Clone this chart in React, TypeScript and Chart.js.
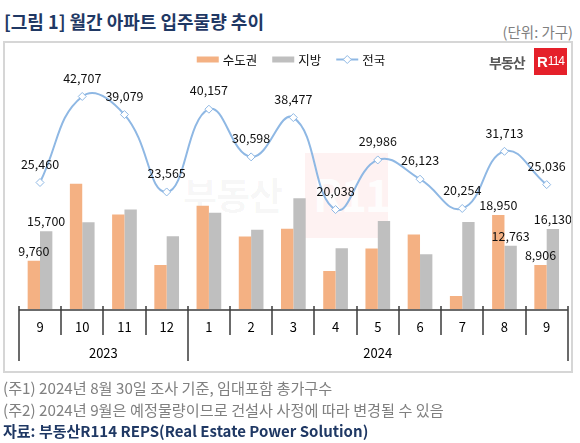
import React, { useEffect, useRef } from "react";
import { Chart, registerables } from "chart.js";

Chart.register(...registerables);

// ---------- data ----------
const monthLabels = ["9", "10", "11", "12", "1", "2", "3", "4", "5", "6", "7", "8", "9"];
const yearLabels = ["2023", "2024"];
const yearStarts = [0, 4]; // category index at which each year begins
const capitalArea = [9760, 25220, 19030, 8900, 20780, 14620, 16190, 7740, 12250, 15050, 2700, 18950, 8906];
const regional = [15700, 17487, 20049, 14665, 19377, 15978, 22287, 12298, 17736, 11073, 17554, 12763, 16130];
const nationwide = [25460, 42707, 39079, 23565, 40157, 30598, 38477, 20038, 29986, 26123, 20254, 31713, 25036];
const barLabelIndices = [0, 11, 12]; // months whose bars carry value labels
const seriesNames = ["수도권", "지방", "전국"];
const yMax = 50000;

const FONT = '"Noto Sans CJK KR", "Noto Sans", sans-serif';
const ORANGE = "#f4b183";
const GRAY = "#bfbfbf";
const BLUE = "#8fb8e4";

const fmt = (v: number) => v.toLocaleString("en-US");

const customPlugin = {
  id: "customDraw",
  afterDatasetsDraw(chart: any) {
    const ctx = chart.ctx as CanvasRenderingContext2D;
    ctx.save();
    ctx.fillStyle = "#111";
    ctx.textAlign = "center";
    ctx.textBaseline = "middle";
    ctx.font = `12.5px ${FONT}`;
    // bar labels
    [0, 1].forEach((di) => {
      const meta = chart.getDatasetMeta(di);
      const data = chart.data.datasets[di].data as number[];
      barLabelIndices.forEach((i) => {
        const el = meta.data[i];
        ctx.fillText(fmt(data[i]), el.x, el.y - 10);
      });
    });
    // line labels
    const lmeta = chart.getDatasetMeta(2);
    const ldata = chart.data.datasets[2].data as number[];
    lmeta.data.forEach((el: any, i: number) => {
      ctx.fillText(fmt(ldata[i]), el.x, el.y - 18.5);
    });
    ctx.restore();
  },
  afterDraw(chart: any) {
    const ctx = chart.ctx as CanvasRenderingContext2D;
    const xs = chart.scales.x;
    const ys = chart.scales.y;
    const area = chart.chartArea;
    const n = monthLabels.length;
    const step = (area.right - area.left) / n;
    const y0 = Math.round(ys.getPixelForValue(0));
    ctx.save();
    // axis line
    ctx.strokeStyle = "#6b6b6b";
    ctx.lineWidth = 2;
    ctx.beginPath();
    ctx.moveTo(area.left, y0);
    ctx.lineTo(area.right, y0);
    ctx.stroke();
    // separators
    ctx.strokeStyle = "#3a3a3a";
    ctx.lineWidth = 1.5;
    const boundary = (i: number) =>
      i === n ? xs.getPixelForValue(n - 1) + step / 2 : xs.getPixelForValue(i) - step / 2;
    for (let i = 0; i <= n; i++) {
      const px = Math.round(boundary(i));
      const isYear = i === n || yearStarts.includes(i);
      ctx.beginPath();
      ctx.moveTo(px, y0 - 4);
      ctx.lineTo(px, isYear ? y0 + 51 : y0 + 25);
      ctx.stroke();
    }
    // month labels
    ctx.fillStyle = "#000";
    ctx.textAlign = "center";
    ctx.textBaseline = "middle";
    ctx.font = `13px ${FONT}`;
    monthLabels.forEach((m, i) => {
      ctx.fillText(m, xs.getPixelForValue(i), y0 + 17);
    });
    // year labels
    yearLabels.forEach((yl, k) => {
      const s = yearStarts[k];
      const e = k + 1 < yearStarts.length ? yearStarts[k + 1] : n;
      const cx = (boundary(s) + boundary(e)) / 2;
      ctx.fillText(yl, cx, y0 + 43);
    });

    // legend
    ctx.font = `12.5px ${FONT}`;
    ctx.textAlign = "left";
    const sw = 22;
    const gapText = 4;
    const gapItem = 15;
    const widths = seriesNames.map((s) => sw + gapText + ctx.measureText(s).width);
    const total = widths.reduce((a, b) => a + b, 0) + gapItem * (widths.length - 1);
    let lx = 291 - total / 2;
    const ly = 59.5;
    seriesNames.forEach((s, i) => {
      if (i < 2) {
        ctx.fillStyle = i === 0 ? ORANGE : GRAY;
        ctx.fillRect(lx, ly - 3, sw, 6);
      } else {
        ctx.strokeStyle = BLUE;
        ctx.lineWidth = 2;
        ctx.beginPath();
        ctx.moveTo(lx, ly);
        ctx.lineTo(lx + sw, ly);
        ctx.stroke();
        ctx.fillStyle = "#fff";
        ctx.lineWidth = 1;
        ctx.beginPath();
        const cx = lx + sw / 2;
        ctx.moveTo(cx, ly - 4);
        ctx.lineTo(cx + 4, ly);
        ctx.lineTo(cx, ly + 4);
        ctx.lineTo(cx - 4, ly);
        ctx.closePath();
        ctx.fill();
        ctx.stroke();
      }
      ctx.fillStyle = "#111";
      ctx.fillText(s, lx + sw + gapText, ly + 0.5);
      lx += widths[i] + gapItem;
    });
    ctx.restore();
  },
};

export default function App() {
  const canvasRef = useRef<HTMLCanvasElement | null>(null);

  useEffect(() => {
    if (!canvasRef.current) return;
    const chart = new Chart(canvasRef.current, {
      type: "bar",
      data: {
        labels: monthLabels,
        datasets: [
          {
            type: "bar",
            label: seriesNames[0],
            data: capitalArea,
            backgroundColor: ORANGE,
            borderWidth: 0,
            barPercentage: 1,
            categoryPercentage: 0.585,
            order: 1,
          },
          {
            type: "bar",
            label: seriesNames[1],
            data: regional,
            backgroundColor: GRAY,
            borderWidth: 0,
            barPercentage: 1,
            categoryPercentage: 0.585,
            order: 2,
          },
          {
            type: "line",
            label: seriesNames[2],
            data: nationwide,
            borderColor: BLUE,
            borderWidth: 2,
            tension: 0.45,
            pointStyle: "rectRot",
            pointRadius: 4,
            pointBorderWidth: 1,
            pointBorderColor: BLUE,
            pointBackgroundColor: "#fff",
            order: 0,
          } as any,
        ],
      },
      options: {
        responsive: false,
        animation: false,
        devicePixelRatio: 1,
        layout: { padding: { left: 18.9, right: 12.2, top: 60.1, bottom: 133.5 } },
        plugins: { legend: { display: false }, tooltip: { enabled: false } },
        scales: {
          x: { display: false, offset: true },
          y: { display: false, min: 0, max: yMax },
        },
      },
      plugins: [customPlugin],
    });
    return () => chart.destroy();
  }, []);

  const abs = (s: React.CSSProperties): React.CSSProperties => ({ position: "absolute", ...s });

  return (
    <div style={{ position: "absolute", left: 0, top: 0, width: 580, height: 443, background: "#fff", fontFamily: FONT, overflow: "hidden" }}>
      <div style={abs({ left: 4, top: 9, fontSize: 18, fontWeight: 700, color: "#1f3864", lineHeight: "24px", whiteSpace: "nowrap" })}>
        [그림 1] 월간 아파트 입주물량 추이
      </div>
      <div style={abs({ right: 7, top: 22, fontSize: 14.5, color: "#808080", lineHeight: "20px", whiteSpace: "nowrap" })}>
        (단위: 가구)
      </div>
      {/* watermark (behind the chart) */}
      <div style={abs({ left: 183, top: 174, fontSize: 37, fontWeight: 700, color: "rgba(0,0,0,0.035)", lineHeight: "40px", whiteSpace: "nowrap", letterSpacing: -1 })}>
        부동산
      </div>
      <div style={abs({ left: 305, top: 153, width: 83, height: 85, background: "rgba(232,30,40,0.06)" })}>
        <div style={abs({ left: 8, top: 18, color: "rgba(255,255,255,0.9)", fontWeight: 700, fontSize: 44, lineHeight: "44px", whiteSpace: "nowrap", letterSpacing: -2 })}>
          R114
        </div>
      </div>
      <canvas ref={canvasRef} width={580} height={443} style={abs({ left: 0, top: 0, width: 580, height: 443 })} />
      <div style={abs({ left: 3, top: 41, width: 570, height: 332, border: "2px solid #d6d6d6", boxSizing: "border-box", pointerEvents: "none" })} />
      {/* logo */}
      <div style={abs({ left: 489, top: 52, fontSize: 14, fontWeight: 700, color: "#595959", lineHeight: "20px", letterSpacing: -1, whiteSpace: "nowrap" })}>
        부동산
      </div>
      <div style={abs({ left: 534, top: 48, width: 33, height: 27, background: "#e5202a", color: "#fff", display: "flex", alignItems: "center", justifyContent: "center", whiteSpace: "nowrap" })}>
        <span style={{ fontSize: 15, fontWeight: 700, lineHeight: "15px", fontFamily: '"Liberation Sans", Arial, sans-serif' }}>R</span>
        <span style={{ fontSize: 12, lineHeight: "15px", letterSpacing: -1, fontFamily: '"Liberation Sans Narrow", "Liberation Sans", sans-serif' }}>114</span>
      </div>
      {/* footnotes */}
      <div style={abs({ left: 3, top: 377, fontSize: 15.2, color: "#808080", lineHeight: "20px", whiteSpace: "nowrap" })}>
        (주1) 2024년 8월 30일 조사 기준, 임대포함 총가구수
      </div>
      <div style={abs({ left: 3, top: 399, fontSize: 15.2, color: "#808080", lineHeight: "20px", whiteSpace: "nowrap" })}>
        (주2) 2024년 9월은 예정물량이므로 건설사 사정에 따라 변경될 수 있음
      </div>
      <div style={abs({ left: 3, top: 421, fontSize: 15, fontWeight: 700, color: "#1f3864", lineHeight: "20px", whiteSpace: "nowrap" })}>
        자료: 부동산R114 REPS(Real Estate Power Solution)
      </div>
    </div>
  );
}
